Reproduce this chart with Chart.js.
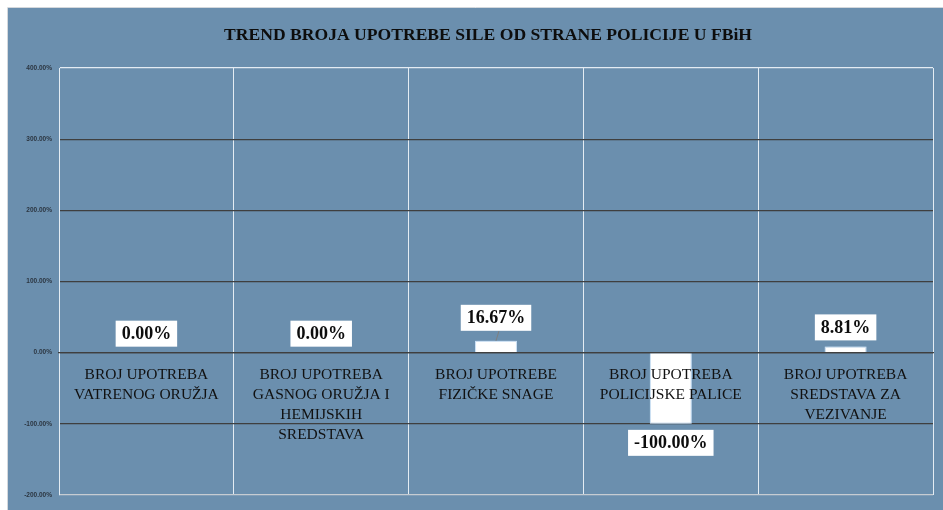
<!DOCTYPE html>
<html>
<head>
<meta charset="utf-8">
<script src="https://cdn.jsdelivr.net/npm/chart.js@4"></script>
<style>
  html, body { margin: 0; padding: 0; background: #ffffff; }
  #wrap { position: relative; width: 943px; height: 510px; }
</style>
</head>
<body>
<div id="wrap"><canvas id="c" width="943" height="510"></canvas></div>
<script>
// ---- data ----
const titleText = 'TREND BROJA UPOTREBE SILE OD STRANE POLICIJE U FBiH';
const categories = [
  ['BROJ UPOTREBA', 'VATRENOG ORUŽJA'],
  ['BROJ UPOTREBA', 'GASNOG ORUŽJA I', 'HEMIJSKIH', 'SREDSTAVA'],
  ['BROJ UPOTREBE', 'FIZIČKE SNAGE'],
  ['BROJ UPOTREBA', 'POLICIJSKE PALICE'],
  ['BROJ UPOTREBA', 'SREDSTAVA ZA', 'VEZIVANJE']
];
const trendValues = [0.00, 0.00, 16.67, -100.00, 8.81];
const yMin = -200, yMax = 400, yStep = 100;

// ---- plugins ----
const panelPlugin = {
  id: 'panel',
  beforeDraw(chart) {
    const ctx = chart.ctx;
    ctx.save();
    ctx.fillStyle = '#ffffff';
    ctx.fillRect(0, 0, chart.width, chart.height);
    ctx.fillStyle = '#6b8fae';
    ctx.fillRect(8, 8, chart.width - 8, chart.height - 8);
    ctx.strokeStyle = '#d4d8dc';
    ctx.lineWidth = 1;
    ctx.beginPath();
    ctx.moveTo(7.5, chart.height);
    ctx.lineTo(7.5, 7.5);
    ctx.lineTo(chart.width, 7.5);
    ctx.stroke();
    ctx.restore();
  }
};

// shift the title's box so it centres like the reference
const titleShiftPlugin = {
  id: 'titleShift',
  afterLayout(chart) {
    if (chart.titleBlock) chart.titleBlock.left = 43;
  }
};

const glowPlugin = {
  id: 'glow',
  beforeDatasetsDraw(chart) {
    const ctx = chart.ctx;
    ctx.save();
    ctx.shadowColor = 'rgba(200,225,250,0.95)';
    ctx.shadowBlur = 6;
  },
  afterDatasetsDraw(chart) {
    chart.ctx.restore();
  }
};

const valueLabelPlugin = {
  id: 'valueLabels',
  afterDraw(chart, args, opts) {
    const ctx = chart.ctx;
    const meta = chart.getDatasetMeta(0);
    const values = chart.data.datasets[0].data;
    ctx.save();
    ctx.font = 'bold 18px "Liberation Serif", serif';
    ctx.textAlign = 'center';
    ctx.textBaseline = 'middle';
    meta.data.forEach((el, i) => {
      const v = values[i];
      const txt = v.toFixed(2) + '%';
      const shift = (opts.shifts && opts.shifts[i]) || 0;
      const off = opts.offset + shift;
      const top = Math.min(el.y, el.base), bottom = Math.max(el.y, el.base);
      const cy = v >= 0 ? top - off : bottom + off;
      const w = ctx.measureText(txt).width + 12;
      const h = 26;
      if (shift > 0) {
        ctx.strokeStyle = '#7f7f7f';
        ctx.lineWidth = 1;
        ctx.beginPath();
        ctx.moveTo(el.x + 3, cy + h / 2);
        ctx.lineTo(el.x, top);
        ctx.stroke();
      }
      ctx.fillStyle = '#ffffff';
      ctx.fillRect(el.x - w / 2, cy - h / 2, w, h);
      ctx.fillStyle = '#0d0d0d';
      ctx.fillText(txt, el.x, cy + 1);
    });
    ctx.restore();
  }
};

// ---- chart ----
new Chart(document.getElementById('c'), {
  type: 'bar',
  data: {
    labels: categories,
    datasets: [{
      data: trendValues,
      backgroundColor: '#ffffff',
      borderColor: 'rgba(205,225,245,1)',
      borderWidth: 1,
      barPercentage: 0.24,
      categoryPercentage: 1.0
    }]
  },
  options: {
    responsive: false,
    animation: false,
    devicePixelRatio: 1,
    layout: { padding: { left: 0, right: 10, top: 0, bottom: 15 } },
    plugins: {
      legend: { display: false },
      tooltip: { enabled: false },
      title: {
        display: true,
        text: titleText,
        color: '#0d0d0d',
        font: { family: '"Liberation Serif", serif', size: 17.6, weight: 'bold' },
        padding: { top: 24.4, bottom: 22.5 }
      },
      valueLabels: { offset: 19, shifts: [0, 0, 4, 0, 0] }
    },
    scales: {
      x: {
        position: { y: 0 },
        grid: {
          offset: true,
          color: '#e4ecf3',
          lineWidth: 1,
          drawTicks: false
        },
        border: { display: true, color: '#3f3f3f', width: 1.3, z: 1 },
        ticks: {
          z: 1,
          color: '#111111',
          padding: 12,
          maxRotation: 0,
          autoSkip: false,
          font: { family: '"Liberation Serif", serif', size: 15.5, lineHeight: 1.29 }
        }
      },
      y: {
        min: yMin,
        max: yMax,
        afterFit(scale) { scale.width = 59; },
        grid: {
          drawTicks: false,
          lineWidth: 1.3,
          color(ctx) {
            const v = ctx.tick && ctx.tick.value;
            if (v === yMax) return '#e4ecf3';
            if (v === yMin) return '#c6ccd2';
            return '#3f3f3f';
          }
        },
        border: { display: true, color: '#e4ecf3', width: 1 },
        ticks: {
          stepSize: yStep,
          padding: 7,
          color: '#2b3540',
          font: { family: '"Liberation Sans", sans-serif', size: 6.5, weight: 'bold' },
          callback: (v) => Number(v).toFixed(2) + '%'
        }
      }
    }
  },
  plugins: [panelPlugin, titleShiftPlugin, glowPlugin, valueLabelPlugin]
});
</script>
</body>
</html>
